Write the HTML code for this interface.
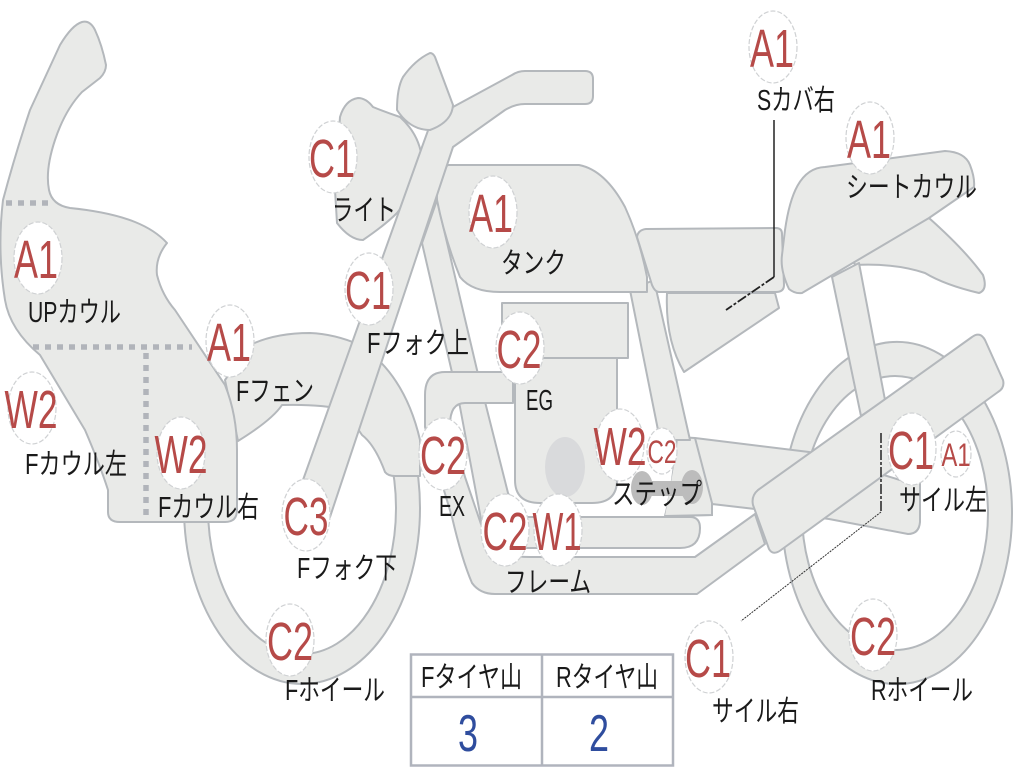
<!DOCTYPE html>
<html><head><meta charset="utf-8"><style>
html,body{margin:0;padding:0;background:#fff;width:1024px;height:768px;overflow:hidden}
svg{display:block}
.s{fill:#e9eae8;stroke:#b4b8bc;stroke-width:2;stroke-linejoin:round}
.d{fill:none;stroke:#b1b4ba;stroke-width:5.5;stroke-dasharray:6 6}
.b{fill:#fff;stroke:#cfd1d3;stroke-width:1.2;stroke-dasharray:5 2}
.r{fill:#b64a48;font-family:"Liberation Sans",sans-serif;font-size:54px;text-anchor:middle}
.rs{font-size:32px}
.l{fill:#1a1a1a;font-family:"Liberation Sans","Noto Sans CJK JP",sans-serif;font-size:29px}
.n{fill:#2f4d9e;font-family:"Liberation Sans",sans-serif;font-size:52px;text-anchor:middle}
</style></head><body>
<svg width="1024" height="768" viewBox="0 0 1024 768" xmlns="http://www.w3.org/2000/svg">
<defs><clipPath id="fw"><rect x="150" y="450" width="300" height="260"/></clipPath></defs>

<!-- wheels -->
<path class="s" clip-path="url(#fw)" fill-rule="evenodd" d="M184,508a118,176 0 1,0 236,0a118,176 0 1,0 -236,0ZM208,508a94,146 0 1,0 188,0a94,146 0 1,0 -188,0Z"/>
<path class="s" fill-rule="evenodd" d="M782,513a115,171 0 1,0 230,0a115,171 0 1,0 -230,0ZM802,513a93,137 0 1,0 186,0a93,137 0 1,0 -186,0Z"/>

<!-- tail fin -->
<path class="s" d="M929,218Q965,250 983,275Q988,290 979,293Q945,285 925,273Q895,263 855,265L850,250Z"/>
<!-- rear strut -->
<path class="s" d="M832,277L859,263L885,400L861,416Z"/>
<!-- swingarm -->
<path class="s" d="M677,437L695,438L809,452L900,480L920,480L920,522Q919,534 908,534L829,519L755,509L712,504L712,515L665,516Q672,490 677,437Z"/>

<!-- fender -->
<path class="s" d="M225,380L250,345Q275,333 310,333Q335,334 360,345Q405,375 420,440L420,476L395,476Q388,476 385,472Q375,445 362,435L345,410Q322,404 282,405Q272,420 238,441Z"/>

<!-- frame tube -->
<path class="s" d="M422,243L437,200L477,370L508,493L520,517L690,517Q700,517 700,528Q700,548 680,548L505,548Q490,548 483,530L460,407Z"/>
<!-- rear frame tube -->
<path class="s" d="M630,290L654,280L690,440L660,440Z"/>
<!-- engine -->
<path class="s" d="M515,358L617,358L617,480Q617,503 592,503L540,503Q515,503 515,480Z"/>
<rect class="s" x="502" y="303" width="126" height="55"/>
<ellipse cx="565" cy="467" rx="20" ry="30" fill="#d9dadc"/>
<!-- exhaust -->
<path class="s" d="M513,372L445,372Q425,372 425,395L425,427L452,517Q462,560 472,583Q480,594 495,594L697,594L765,544L755,514L695,557L530,557Q490,557 483,530L465,477L450,425Q450,403 465,403L513,403Z"/>

<!-- step plate overlay -->
<path d="M675,460L700,452L712,500L712,515L665,516Z" fill="#e9eae8"/>
<path d="M695,438L712,503L712,515L665,516" fill="none" stroke="#b4b8bc" stroke-width="2"/>
<rect x="642" y="481" width="50" height="15" fill="#bcbcbc"/>
<ellipse cx="642" cy="488" rx="11" ry="17" fill="#bcbcbc"/>
<ellipse cx="692" cy="487" rx="11" ry="17" fill="#bcbcbc"/>

<!-- tank -->
<path class="s" d="M448,165L579,165Q605,170 625,207Q640,240 647,277L647,292L500,292Q472,292 460,277Q445,240 437,200Q436,172 448,165Z"/>
<!-- side cover -->
<path class="s" d="M667,293L775,293L779,308L684,372Q665,340 667,293Z"/>
<!-- seat -->
<path class="s" d="M637,237Q638,230 646,229L776,228Q782,228 782,234L784,285Q784,292 776,292L659,292Q655,292 652,285Z"/>
<!-- seat cowl -->
<path class="s" d="M785,230C790,195 800,168 825,167L945,151Q965,152 970,165Q975,178 974,187L929,218L802,293Q795,294 789,289Q780,270 782,255Z"/>

<!-- headlight -->
<path class="s" d="M340,117Q345,100 358,98Q366,98 373,107Q385,112 400,117Q420,135 422,160Q420,185 397,213Q385,225 363,240Q350,240 337,223L335,190Z"/>
<!-- fork + handlebar -->
<path class="s" d="M422,147L430,125L453,107L512,75Q518,71 525,71L585,71Q593,71 593,79L593,96Q593,104 585,104L525,104Q515,104 505,110L453,147L330,517L303,480Z"/>
<!-- meter -->
<path class="s" d="M430,53Q433,53 435,57L453,105Q452,122 430,130Q410,130 397,110Q397,88 403,77Q415,60 430,53Z"/>

<!-- cowl -->
<path class="s" d="M82,22Q90,20 95,30Q102,45 106,65Q106,72 100,78L82,92Q65,110 55,140Q45,170 49,190Q52,205 70,208Q110,212 135,222Q155,230 167,243Q155,258 157,275Q162,295 175,310L225,385Q237,415 237,450L237,510Q237,522 225,522L120,522Q108,522 108,512L108,490Q100,465 85,430L40,355Q10,330 5,300Q-3,250 3,200Q15,155 30,110L60,45Q72,25 82,22Z"/>
<path class="d" d="M6,203H50"/>
<path class="d" d="M33,347H192"/>
<path class="d" d="M146,353V516"/>

<!-- muffler -->
<path class="s" d="M758,490L972,337Q980,331 985,340L1003,380Q1005,388 998,392L781,550Q773,556 769,549L753,505Q751,496 758,490Z"/>

<!-- leader lines -->
<path d="M774,120V277" fill="none" stroke="#222" stroke-width="1.5"/>
<path d="M774,277L726,310" fill="none" stroke="#222" stroke-width="1.8" stroke-dasharray="10 2 3 2"/>
<path d="M881,433V512" fill="none" stroke="#222" stroke-width="1.5" stroke-dasharray="10 2 3 2"/>
<path d="M881,512L741,621" fill="none" stroke="#333" stroke-width="1" stroke-dasharray="2 1"/>

<!-- badges -->
<ellipse class="b" cx="773" cy="47" rx="24" ry="36"/><text class="r" x="772" y="67" textLength="44" lengthAdjust="spacingAndGlyphs">A1</text>
<ellipse class="b" cx="870" cy="138" rx="24" ry="36"/><text class="r" x="869" y="158" textLength="44" lengthAdjust="spacingAndGlyphs">A1</text>
<ellipse class="b" cx="333" cy="157" rx="24" ry="36"/><text class="r" x="332" y="177" textLength="46" lengthAdjust="spacingAndGlyphs">C1</text>
<ellipse class="b" cx="38" cy="258" rx="24" ry="36"/><text class="r" x="36" y="278" textLength="44" lengthAdjust="spacingAndGlyphs">A1</text>
<ellipse class="b" cx="493" cy="212" rx="24" ry="36"/><text class="r" x="491" y="232" textLength="44" lengthAdjust="spacingAndGlyphs">A1</text>
<ellipse class="b" cx="369" cy="289" rx="24" ry="36"/><text class="r" x="368" y="309" textLength="46" lengthAdjust="spacingAndGlyphs">C1</text>
<ellipse class="b" cx="230" cy="341" rx="24" ry="36"/><text class="r" x="229" y="361" textLength="44" lengthAdjust="spacingAndGlyphs">A1</text>
<ellipse class="b" cx="520" cy="348" rx="24" ry="36"/><text class="r" x="519" y="368" textLength="45" lengthAdjust="spacingAndGlyphs">C2</text>
<ellipse class="b" cx="32" cy="408" rx="24" ry="36"/><text class="r" x="31" y="428" textLength="53" lengthAdjust="spacingAndGlyphs">W2</text>
<ellipse class="b" cx="181" cy="453" rx="24" ry="36"/><text class="r" x="181" y="473" textLength="53" lengthAdjust="spacingAndGlyphs">W2</text>
<ellipse class="b" cx="620" cy="445" rx="24" ry="36"/><text class="r" x="620" y="465" textLength="53" lengthAdjust="spacingAndGlyphs">W2</text>
<ellipse class="b" cx="662" cy="451" rx="15" ry="23"/><text class="r rs" x="662" y="463" textLength="29" lengthAdjust="spacingAndGlyphs">C2</text>
<ellipse class="b" cx="443" cy="454" rx="24" ry="36"/><text class="r" x="443" y="474" textLength="46" lengthAdjust="spacingAndGlyphs">C2</text>
<ellipse class="b" cx="912" cy="449" rx="24" ry="36"/><text class="r" x="911" y="469" textLength="46" lengthAdjust="spacingAndGlyphs">C1</text>
<ellipse class="b" cx="956" cy="454" rx="15" ry="23"/><text class="r rs" x="956" y="466" textLength="29" lengthAdjust="spacingAndGlyphs">A1</text>
<ellipse class="b" cx="306" cy="515" rx="24" ry="36"/><text class="r" x="306" y="535" textLength="45" lengthAdjust="spacingAndGlyphs">C3</text>
<ellipse class="b" cx="505" cy="530" rx="24" ry="36"/><text class="r" x="505" y="550" textLength="45" lengthAdjust="spacingAndGlyphs">C2</text>
<ellipse class="b" cx="558" cy="530" rx="24" ry="36"/><text class="r" x="557" y="550" textLength="49" lengthAdjust="spacingAndGlyphs">W1</text>
<ellipse class="b" cx="290" cy="640" rx="24" ry="36"/><text class="r" x="290" y="660" textLength="46" lengthAdjust="spacingAndGlyphs">C2</text>
<ellipse class="b" cx="873" cy="635" rx="24" ry="36"/><text class="r" x="873" y="655" textLength="46" lengthAdjust="spacingAndGlyphs">C2</text>
<ellipse class="b" cx="709" cy="657" rx="24" ry="36"/><text class="r" x="708" y="677" textLength="46" lengthAdjust="spacingAndGlyphs">C1</text>

<!-- labels -->
<text class="l" x="757" y="110" textLength="78" lengthAdjust="spacingAndGlyphs">Sカバ右</text>
<text class="l" x="846" y="197" textLength="131" lengthAdjust="spacingAndGlyphs">シートカウル</text>
<text class="l" x="332" y="220" textLength="64" lengthAdjust="spacingAndGlyphs">ライト</text>
<text class="l" x="501" y="273" textLength="65" lengthAdjust="spacingAndGlyphs">タンク</text>
<text class="l" x="28" y="322" textLength="93" lengthAdjust="spacingAndGlyphs">UPカウル</text>
<text class="l" x="367" y="353" textLength="102" lengthAdjust="spacingAndGlyphs">Fフォク上</text>
<text class="l" x="236" y="401" textLength="78" lengthAdjust="spacingAndGlyphs">Fフェン</text>
<text class="l" x="526" y="410" textLength="27" lengthAdjust="spacingAndGlyphs">EG</text>
<text class="l" x="25" y="474" textLength="102" lengthAdjust="spacingAndGlyphs">Fカウル左</text>
<text class="l" x="158" y="517" textLength="101" lengthAdjust="spacingAndGlyphs">Fカウル右</text>
<text class="l" x="439" y="516" textLength="26" lengthAdjust="spacingAndGlyphs">EX</text>
<text class="l" x="612" y="504" textLength="90" lengthAdjust="spacingAndGlyphs">ステップ</text>
<text class="l" x="899" y="510" textLength="88" lengthAdjust="spacingAndGlyphs">サイル左</text>
<text class="l" x="297" y="578" textLength="100" lengthAdjust="spacingAndGlyphs">Fフォク下</text>
<text class="l" x="505" y="592" textLength="86" lengthAdjust="spacingAndGlyphs">フレーム</text>
<text class="l" x="285" y="700" textLength="100" lengthAdjust="spacingAndGlyphs">Fホイール</text>
<text class="l" x="871" y="700" textLength="102" lengthAdjust="spacingAndGlyphs">Rホイール</text>
<text class="l" x="712" y="721" textLength="87" lengthAdjust="spacingAndGlyphs">サイル右</text>

<!-- table -->
<rect x="411" y="654.5" width="262" height="111" fill="#fff" stroke="#b0b4bd" stroke-width="2.5"/>
<path d="M411,697H673M542,654V766" stroke="#b0b4bd" stroke-width="2.5" fill="none"/>
<text class="l" x="421" y="687" textLength="101" lengthAdjust="spacingAndGlyphs">Fタイヤ山</text>
<text class="l" x="556" y="687" textLength="102" lengthAdjust="spacingAndGlyphs">Rタイヤ山</text>
<text class="n" x="468" y="751" textLength="20" lengthAdjust="spacingAndGlyphs">3</text>
<text class="n" x="599" y="751" textLength="20" lengthAdjust="spacingAndGlyphs">2</text>
</svg>
</body></html>
